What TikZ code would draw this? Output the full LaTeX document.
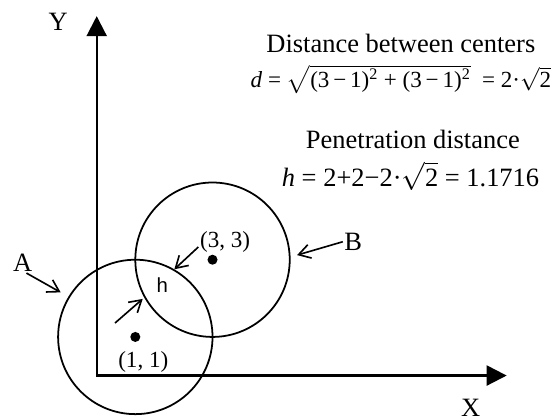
\documentclass[tikz,border=0pt]{standalone}
\usepackage{fontspec}
\setmainfont{Liberation Serif}
\newfontfamily\labelsans{Liberation Sans}
\usepackage{amsmath}
\usetikzlibrary{arrows.meta, positioning}
\tikzset{
    axisline/.style={line width=1.6pt, {Triangle[length=5.2mm, width=5.2mm]}-{Triangle[length=5.2mm, width=5.2mm]}},
    disk/.style={draw, circle, line width=1.3pt, minimum size=4cm, inner sep=0pt},
    centerdot/.style={circle, fill, minimum size=2.6mm, inner sep=0pt},
    pointer/.style={line width=1.2pt, -{Straight Barb[length=3mm, width=3.6mm]}},
    bigtext/.style={font=\fontsize{19.5}{23}\selectfont, inner sep=1pt},
    eqtext/.style={inner sep=1pt, anchor=base},
    coordtext/.style={font=\fontsize{17}{20}\selectfont, inner sep=1pt},
    htext/.style={font=\labelsans\fontsize{15}{18}\selectfont, inner sep=1pt},
}
\newcommand{\rt}[1]{$\sqrt{\text{#1}}$}
\begin{document}
\begin{tikzpicture}
    \useasboundingbox (-2.505, -1.127) rectangle (11.82, 9.728);

    % === Axes ===
    \coordinate (origin) at (0, 0);
    \coordinate (xend) at (10.62, 0);
    \coordinate (yend) at (0, 9.31);
    \draw[axisline] (yend) -- (origin) -- (xend);
    \node[bigtext] (ylabel) at (-1.0, 9.17) {Y};
    \node[bigtext, anchor=base] (xlabel) at (9.69, -1.07) {X};

    % === Circles A and B ===
    \node[disk] (cA) at (1, 1) {};
    \node[disk] (cB) at (3, 3) {};
    \node[centerdot] (pA) at (1, 1) {};
    \node[centerdot] (pB) at (3, 3) {};
    \node[coordtext] (lA) at (1.207, 0.357) {(1, 1)};
    \node[coordtext] (lB) at (3.326, 3.466) {(3, 3)};

    % names of the circles
    \node[bigtext] (nameA) at (-1.917, 2.922) {A};
    \node[bigtext] (nameB) at (6.645, 3.466) {B};
    \draw[pointer, shorten >=6.5pt] (nameA.-70) -- (cA.149);
    \draw[pointer, shorten >=5pt] (nameB.west) -- (cB.2);

    % penetration h
    \node[htext] (hlabel) at (1.70, 2.345) {h};
    \coordinate (hstartB) at (2.632, 3.329);
    \coordinate (hstartA) at (0.474, 1.36);
    \draw[pointer] (hstartB) -- (cA.60.6);
    \draw[pointer, shorten >=1.5pt] (hstartA) -- (cB.209);

    % === Formulas ===
    \node[bigtext, anchor=base] (distTitle) at (7.88, 8.36) {Distance between centers};
    \node[eqtext, font=\fontsize{17}{20}\selectfont] (distEq) at (7.88, 7.45) {\textit{d} = \rt{(3\,−\,1)\textsuperscript{2} + (3\,−\,1)\textsuperscript{2}}\ \ = 2·\rt{2}};
    \node[bigtext, anchor=base] (penTitle) at (8.19, 5.886) {Penetration distance};
    \node[eqtext, font=\fontsize{19.5}{23}\selectfont] (penEq) at (8.13, 4.89) {\textit{h} = 2+2−2·\rt{2} = 1.1716};
\end{tikzpicture}
\end{document}
